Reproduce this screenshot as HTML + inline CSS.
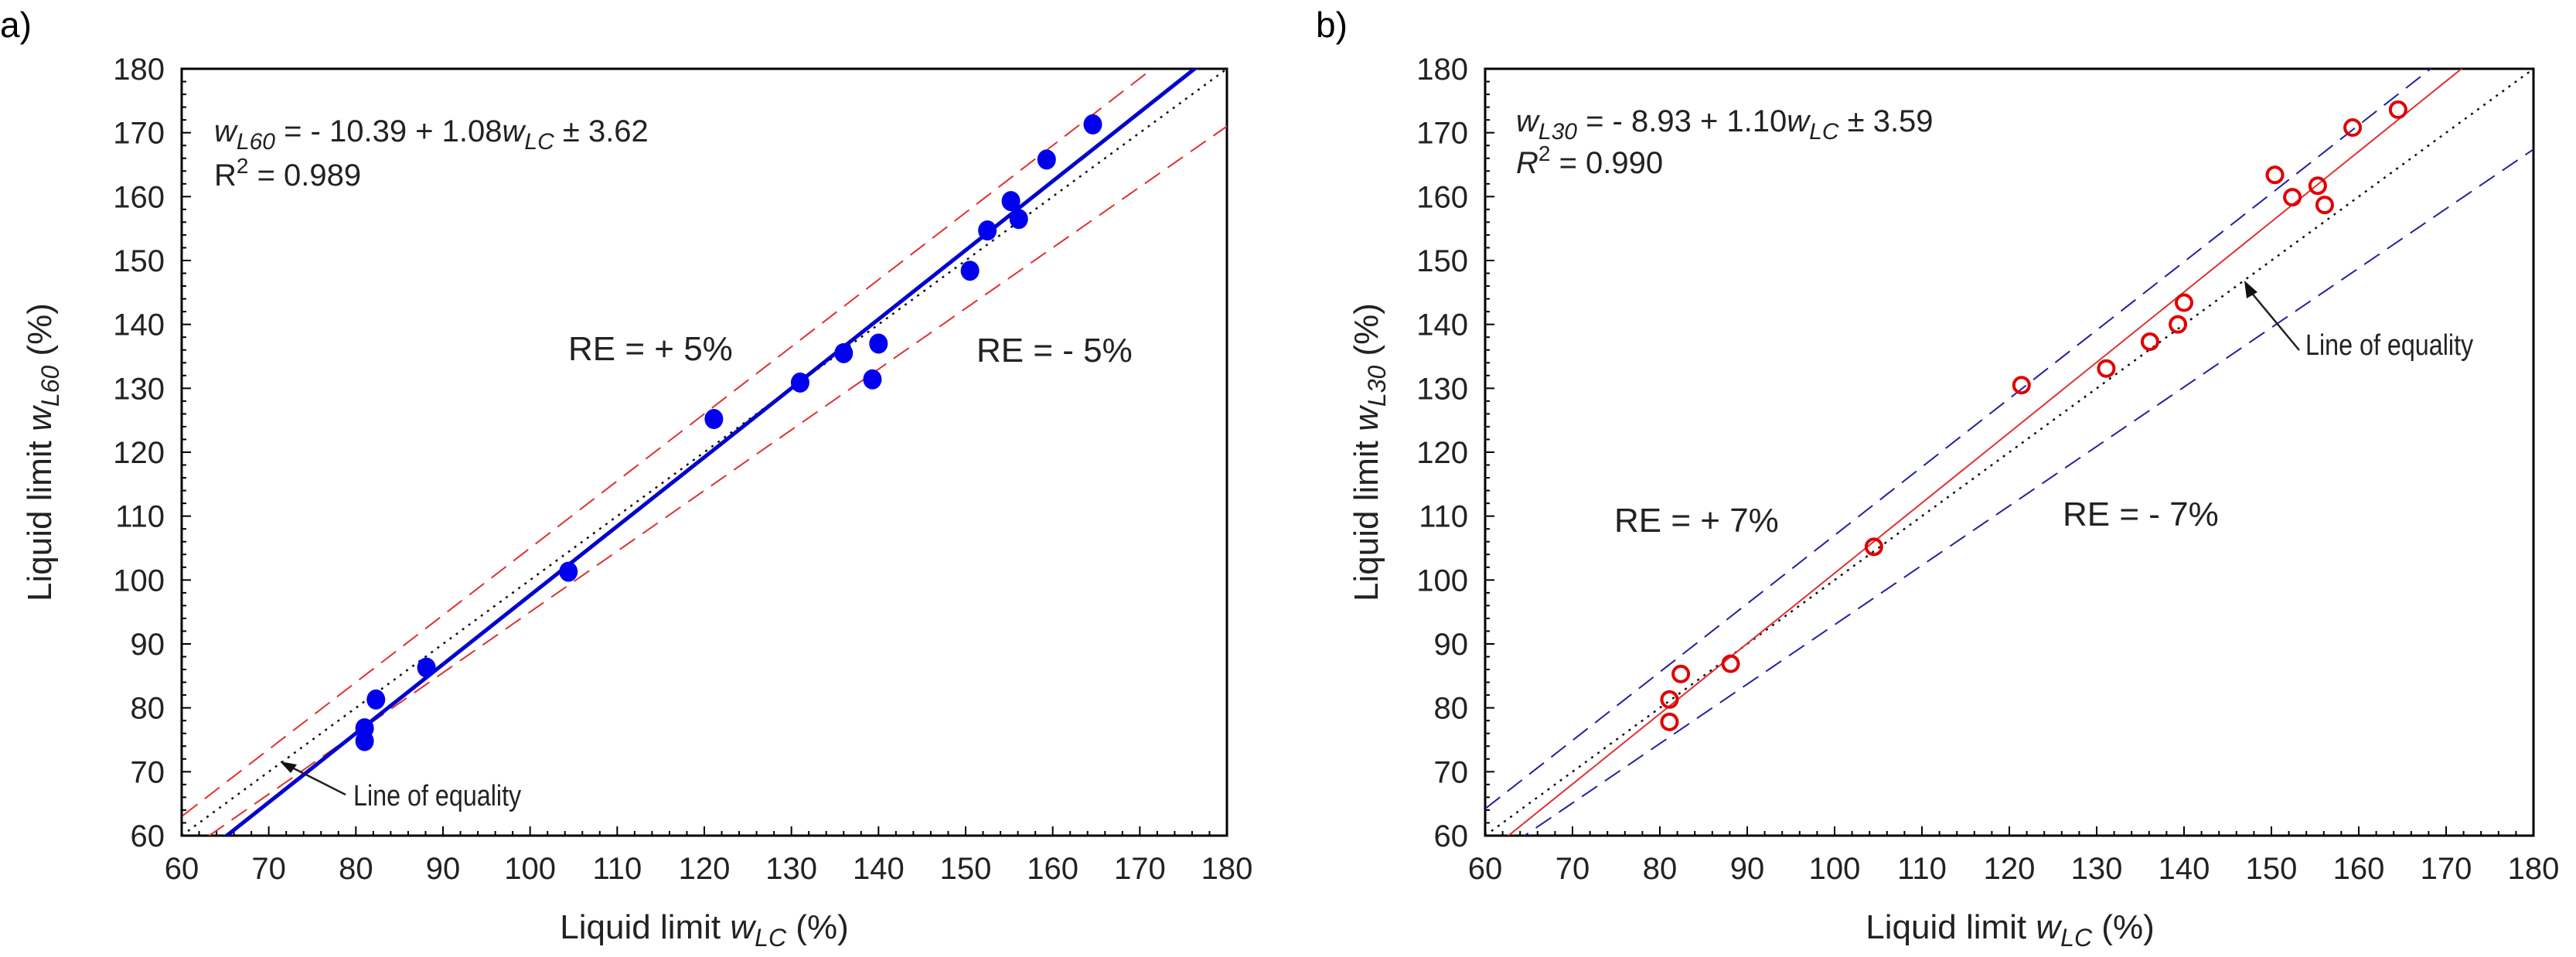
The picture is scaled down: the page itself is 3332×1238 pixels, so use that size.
<!DOCTYPE html>
<html><head><meta charset="utf-8">
<style>
html,body{margin:0;padding:0;background:#fff;}
svg{display:block;font-family:"Liberation Sans",Arial,sans-serif;}
</style></head>
<body>
<svg id="fig" width="3332" height="1238" viewBox="0 0 3332 1238" xmlns="http://www.w3.org/2000/svg">
<defs>
<clipPath id="clipA"><rect x="235" y="89" width="1352" height="992"/></clipPath>
<clipPath id="clipB"><rect x="1921" y="89" width="1356" height="992"/></clipPath>
</defs>
<text x="0" y="48" font-size="46">a)</text>
<text x="1702" y="48" font-size="46">b)</text>
<g id="gA"></g>
<g id="gB"></g>
</svg>
<script>
// Chart A data
const aX = [81, 81, 82.3, 88.1, 104.4, 121.1, 131, 136, 139.3, 140, 150.5, 152.5, 155.2, 156.1, 159.3, 164.6];
const aY = [76.8, 74.8, 81.3, 86.3, 101.3, 125.2, 130.9, 135.5, 131.4, 137, 148.4, 154.7, 159.3, 156.5, 165.8, 171.3];
const aFit = [-10.39, 1.08];
const aRE = [1.05, 0.95];
// Chart B data
const bX = [81.1, 81.1, 82.4, 88.1, 104.5, 121.4, 131.1, 136.1, 139.3, 140, 150.4, 152.4, 155.3, 156.1, 159.3, 164.5];
const bY = [77.8, 81.3, 85.3, 86.9, 105.2, 130.5, 133.1, 137.3, 140, 143.4, 163.4, 159.9, 161.7, 158.7, 170.8, 173.6];
const bFit = [-8.93, 1.10];
const bRE = [1.07, 0.93];
const ticks = [60, 70, 80, 90, 100, 110, 120, 130, 140, 150, 160, 170, 180];

const NS = "http://www.w3.org/2000/svg";
function mk(tag, attrs, parent) {
  const e = document.createElementNS(NS, tag);
  for (const k in attrs) e.setAttribute(k, attrs[k]);
  parent.appendChild(e);
  return e;
}

function chart(g, L, R, T, B, clip, xs, ys, fit, re, opts) {
  const sx = v => L + (v - 60) / 120 * (R - L);
  const sy = v => B - (v - 60) / 120 * (B - T);
  // frame
  const fr = mk('rect', {x: L, y: T, width: R - L, height: B - T, fill: 'none', stroke: '#000', 'stroke-width': 3}, g);
  
  
  // ticks
  for (let v = 60; v <= 180; v += 2) {
    const major = (v % 10 === 0);
    const len = major ? 12 : 6;
    const tx = mk('line', {x1: sx(v), x2: sx(v), y1: B, y2: B - len, stroke: '#000', 'stroke-width': 2}, g);
    
    
    const ty = mk('line', {x1: L, x2: L + len, y1: sy(v), y2: sy(v), stroke: '#000', 'stroke-width': 2}, g);
    
    
  }
  ticks.forEach(v => {
    const t1 = mk('text', {x: sx(v), y: B + 56, 'font-size': 40, 'text-anchor': 'middle', fill: '#222'}, g);
    t1.textContent = v;
    
    
    const t2 = mk('text', {x: L - 22, y: sy(v) + 14, 'font-size': 40, 'text-anchor': 'end', fill: '#222'}, g);
    t2.textContent = v;
    
    
  });
  const cg = mk('g', {'clip-path': 'url(#' + clip + ')'}, g);
  
  
  // equality line
  const eq = mk('line', {x1: sx(60), y1: sy(60), x2: sx(180), y2: sy(180), stroke: '#111', 'stroke-width': 2.5, 'stroke-dasharray': '3 7'}, cg);
  
  
  // RE lines
  re.forEach(k => {
    const l = mk('line', {x1: sx(50), y1: sy(50 * k), x2: sx(190), y2: sy(190 * k), stroke: opts.reColor, 'stroke-width': 2, 'stroke-dasharray': '24 12'}, cg);
    
    
  });
  // fit line
  const f = mk('line', {x1: sx(50), y1: sy(fit[0] + fit[1] * 50), x2: sx(190), y2: sy(fit[0] + fit[1] * 190), stroke: opts.fitColor, 'stroke-width': opts.fitW}, cg);
  
  
  // points
  xs.forEach((x, i) => {
    let c;
    if (opts.filled) {
      c = mk('ellipse', {cx: sx(x), cy: sy(ys[i]), rx: 12, ry: 13, fill: '#0000ee'}, cg);
    } else {
      c = mk('circle', {cx: sx(x), cy: sy(ys[i]), r: 10, fill: 'none', stroke: '#e00000', 'stroke-width': 4}, cg);
    }
    
    
  });
}

const gA = document.getElementById('gA');
const gB = document.getElementById('gB');
chart(gA, 235, 1587, 89, 1081, 'clipA', aX, aY, aFit, aRE, {filled: true, reColor: '#e03030', fitColor: '#0000cc', fitW: 5});
chart(gB, 1921, 3277, 89, 1081, 'clipB', bX, bY, bFit, bRE, {filled: false, reColor: '#2020a0', fitColor: '#e03030', fitW: 2});
</script>
<svg width="0" height="0"></svg>
<script>
(function(){
const svg = document.getElementById('fig');
svg.insertAdjacentHTML('beforeend', `
<g>
<text x="277" y="183" font-size="40" fill="#222"><tspan font-style="italic">w</tspan><tspan font-style="italic" font-size="30" dy="10">L60</tspan><tspan dy="-10"> = - 10.39 + 1.08</tspan><tspan font-style="italic">w</tspan><tspan font-style="italic" font-size="30" dy="10">LC</tspan><tspan dy="-10"> ± 3.62</tspan></text>
<text x="277" y="240" font-size="40" fill="#222">R<tspan font-size="28" dy="-16">2</tspan><tspan dy="16"> = 0.989</tspan></text>
<text x="735" y="466" font-size="44" fill="#222">RE = + 5%</text>
<text x="1263" y="468" font-size="44" fill="#222">RE = - 5%</text>
<text x="457" y="1042" font-size="38" fill="#222" transform="translate(457 0) scale(0.85 1) translate(-457 0)">Line of equality</text>
<line x1="447" y1="1028" x2="372" y2="990" stroke="#222" stroke-width="2.5"/>
<polygon points="362,985 384,989 376,1000" fill="#111"/>
<text x="911" y="1214" font-size="44" fill="#222" text-anchor="middle">Liquid limit <tspan font-style="italic">w</tspan><tspan font-style="italic" font-size="32" dy="10">LC</tspan><tspan dy="-10"> (%)</tspan></text>
<text transform="translate(66 585) rotate(-90)" font-size="44" fill="#222" text-anchor="middle">Liquid limit <tspan font-style="italic">w</tspan><tspan font-style="italic" font-size="32" dy="10">L60</tspan><tspan dy="-10"> (%)</tspan></text>
</g>
<g>
<text x="1961" y="170" font-size="40" fill="#222"><tspan font-style="italic">w</tspan><tspan font-style="italic" font-size="30" dy="10">L30</tspan><tspan dy="-10"> = - 8.93 + 1.10</tspan><tspan font-style="italic">w</tspan><tspan font-style="italic" font-size="30" dy="10">LC</tspan><tspan dy="-10"> ± 3.59</tspan></text>
<text x="1961" y="224" font-size="40" fill="#222"><tspan font-style="italic">R</tspan><tspan font-size="28" dy="-16">2</tspan><tspan dy="16"> = 0.990</tspan></text>
<text x="2088" y="688" font-size="44" fill="#222">RE = + 7%</text>
<text x="2668" y="680" font-size="44" fill="#222">RE = - 7%</text>
<text x="2982" y="459" font-size="38" fill="#222" transform="translate(2982 0) scale(0.85 1) translate(-2982 0)">Line of equality</text>
<line x1="2974" y1="453" x2="2910" y2="376" stroke="#222" stroke-width="2.5"/>
<polygon points="2903,363 2920,378 2906,386" fill="#111"/>
<text x="2600" y="1214" font-size="44" fill="#222" text-anchor="middle">Liquid limit <tspan font-style="italic">w</tspan><tspan font-style="italic" font-size="32" dy="10">LC</tspan><tspan dy="-10"> (%)</tspan></text>
<text transform="translate(1782 585) rotate(-90)" font-size="44" fill="#222" text-anchor="middle">Liquid limit <tspan font-style="italic">w</tspan><tspan font-style="italic" font-size="32" dy="10">L30</tspan><tspan dy="-10">  (%)</tspan></text>
</g>`);
})();
</script>
</body></html>
